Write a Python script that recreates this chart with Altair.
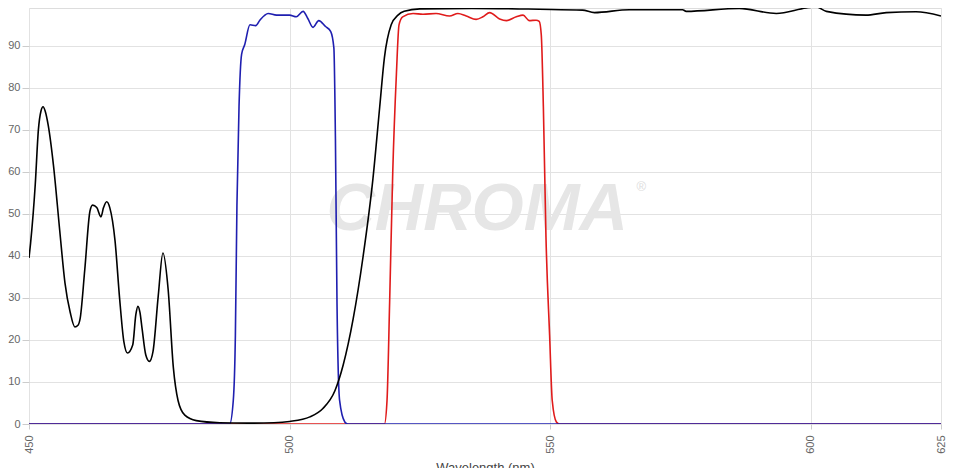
import altair as alt
import pandas as pd

# ---- data (wavelength in nm, transmission in %) ----
black_nm = [450, 450.3, 451.2, 451.8, 452.3, 452.7, 453.1, 453.7, 454.7, 455.9, 456.9, 457.9,
            458.8, 459.4, 459.8, 460.7, 461.7, 462.2, 463.0, 463.8, 464.3, 464.9, 465.5, 466.5,
            467.4, 468.2, 468.9, 469.9, 470.5, 470.9, 471.3, 471.7, 472.4, 473.1, 473.8, 474.8,
            475.7, 476.7, 477.7, 478.6, 479.9, 482.1, 486.6, 492, 497, 500, 503.9, 506.4, 508.7,
            510.3, 512.2, 514.1, 516.0, 517.3, 518.2, 519.5, 520.8, 522, 525, 535, 547.9, 556.2,
            558.5, 565.2, 575.4, 576.1, 586.3, 593.4, 599.1, 601, 603, 610.6, 614.5, 620.2, 625]
black_t = [39.5, 43, 57, 70, 74.5, 75.5, 74.5, 71, 61.5, 46, 33.6, 26.6,
           23.1, 23.5, 25, 36.7, 50.7, 52.1, 51.5, 49.3, 51.5, 52.9, 51.5, 43.7,
           29.7, 19.6, 16.9, 18.8, 26, 28, 26.5, 22.7, 16.5, 14.9, 17.3, 30.5,
           40.7, 32, 13.4, 5.6, 2.1, 0.8, 0.3, 0.2, 0.3, 0.6, 1.7, 3.7, 7.9,
           14.1, 25, 39.8, 58.4, 75.5, 87.2, 95, 97.3, 98.2, 98.8, 98.9, 98.7, 98.5,
           97.9, 98.6, 98.6, 98.2, 98.9, 97.7, 99.0, 99.3, 98.2, 97.3, 97.9, 98.1, 97.1]

blue_nm = [450, 488.5, 489.2, 489.6, 489.9, 490.3, 490.8, 491.4, 492.4, 493.5, 494.3, 495.9,
           497.5, 500, 501.3, 502.6, 503.5, 504.5, 505.6, 506.9, 507.9, 508.5, 508.8, 509.1,
           509.6, 510.6, 511.2, 625]
blue_t = [0, 0, 5.6, 21, 52, 75.5, 88, 90.3, 95, 94.8, 96.1, 97.7,
          97.3, 97.3, 96.9, 98.2, 96.5, 94.4, 96, 94.6, 93.4, 89.5, 67.8, 28.9,
          5.6, 0.5, 0, 0]

red_nm = [450, 518.2, 518.7, 519.2, 519.8, 520.5, 521, 521.7, 523.7, 525.6, 528.1, 530.7,
          532.3, 533.9, 535.8, 537.1, 538.4, 540.3, 541.6, 543.5, 544.8, 546, 547.3, 547.9,
          548.3, 548.7, 549.2, 549.9, 550.4, 551.2, 551.8, 625]
red_t = [0, 0, 5.6, 28.9, 60, 83.3, 95, 96.9, 97.7, 97.5, 97.7, 97.1,
         97.7, 97.1, 96.3, 96.9, 97.9, 96.4, 96, 96.9, 97.3, 96, 96.1, 95.8,
         92.6, 75.5, 44.5, 21.1, 5.6, 0.5, 0, 0]

x_ticks = [450, 500, 550, 600, 625]
y_ticks = [0, 10, 20, 30, 40, 50, 60, 70, 80, 90]

watermark = pd.DataFrame({"nm": [536], "t": [51], "label": ["CHROMA"]})
reg_mark = pd.DataFrame({"nm": [567.5], "t": [56.5], "label": ["®"]})

FONT = "Liberation Sans"

x_scale = alt.Scale(domain=[450, 625], nice=False, zero=False)
y_scale = alt.Scale(domain=[0, 99], nice=False)

x_axis = alt.Axis(values=x_ticks, title="Wavelength (nm)", labelAngle=270,
                  grid=True, gridColor="#e2e2e2", domain=False,
                  tickColor="#cccccc", tickSize=5, labelPadding=6,
                  labelFont=FONT, labelFontSize=11, labelColor="#666666",
                  titleFont=FONT, titleFontSize=13, titleFontWeight="normal",
                  titleColor="#444444", titleBaseline="top", titleY=37)
y_axis = alt.Axis(values=y_ticks, title=None, grid=True, gridColor="#e2e2e2",
                  domain=False, tickColor="#cccccc", tickSize=7, labelPadding=2,
                  labelFont=FONT, labelFontSize=11, labelColor="#666666")


def series(nm, t, color):
    df = pd.DataFrame({"nm": nm, "t": t})
    return alt.Chart(df).mark_line(color=color, strokeWidth=1.6, interpolate="monotone", clip=True).encode(
        x=alt.X("nm:Q", scale=x_scale, axis=x_axis),
        y=alt.Y("t:Q", scale=y_scale, axis=y_axis),
    )


wm = alt.Chart(watermark).mark_text(
    font=FONT, fontSize=67, fontWeight="bold", fontStyle="italic",
    color="#e6e6e6", align="center", baseline="middle"
).encode(x=alt.X("nm:Q", scale=x_scale, axis=x_axis),
         y=alt.Y("t:Q", scale=y_scale, axis=y_axis),
         text="label:N")

reg = alt.Chart(reg_mark).mark_text(
    font=FONT, fontSize=13, color="#dddddd", align="center", baseline="middle"
).encode(x="nm:Q", y="t:Q", text="label:N")

chart = alt.layer(
    wm, reg,
    series(red_nm, red_t, "#e01b1b"),
    series(blue_nm, blue_t, "#1f1fb0"),
    series(black_nm, black_t, "#000000"),
).properties(
    width=912, height=416,
    padding={"left": 21, "top": 0, "right": 8, "bottom": 44},
    autosize=alt.AutoSizeParams(type="none"),
).configure_view(stroke=None).configure(background="white")

chart.save("out.html", embed_options={"renderer": "svg", "actions": False})
